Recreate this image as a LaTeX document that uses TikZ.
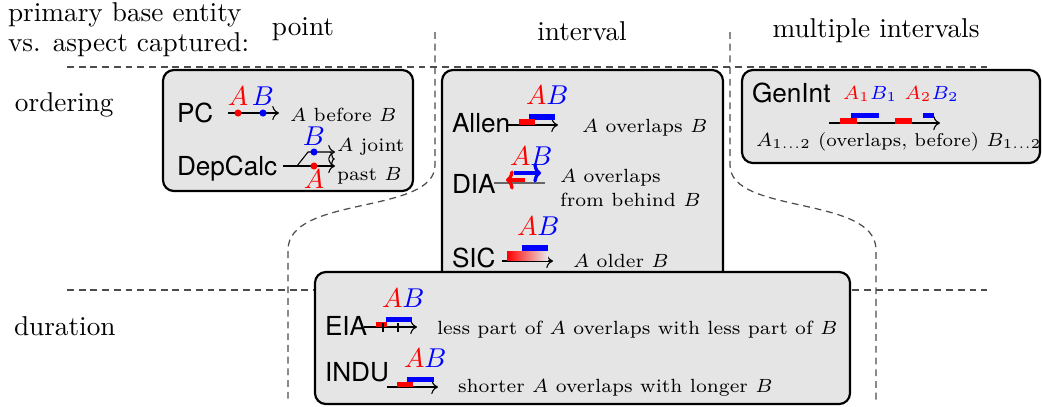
\documentclass[tikz,border=0pt]{standalone}
\usepackage{fontspec}
\newfontfamily\methodfamily{TeX Gyre Heros}
\usetikzlibrary{arrows.meta,fit,decorations.pathreplacing}
\newcommand{\methodfont}{\methodfamily\fontsize{9.6}{11}\selectfont}
\newcommand{\notefont}{\fontsize{7}{8.8}\selectfont}
\newcommand{\pairAB}{$\color{red}A\color{blue}B$}

\begin{document}
\begin{tikzpicture}[
  x=0.0129cm, y=-0.0129cm,
  every node/.style={inner sep=0pt, outer sep=0pt},
  group/.style={draw, line width=0.8pt, rounded corners=1.4mm, fill=black!10, inner sep=0pt},
  divider/.style={draw=black!70, line width=0.45pt, dash pattern=on 2.5pt off 1.8pt},
  head/.style={anchor=base},
  method/.style={font=\methodfont, anchor=base west},
  note/.style={font=\notefont, anchor=base west},
  pair/.style={anchor=base west},
  timeline/.style={->, line width=0.4pt},
  dot/.style={circle, minimum size=2.6pt},
  abar/.style={fill=red},
  bbar/.style={fill=blue},
  thickarrow/.style={line width=1.2pt, arrows={-To[length=2.8pt,width=7pt]}}
]
\useasboundingbox (0,0) rectangle (1042,406);

% dividers of the table
\draw[divider] (67,67) -- (987,67);
\draw[divider] (67,290) -- (987,290);
\draw[divider] (435,32) -- (435,165) .. controls (435,215) and (288,195) .. (288,250) -- (288,400);
\draw[divider] (730,32) -- (730,165) .. controls (730,215) and (876,195) .. (876,250) -- (876,400);

% groups
\node[group, fit={(163,70) (413,191)}] (pointbox) {};
\node[group, fit={(442,70) (723,285)}] (intervalbox) {};
\node[group, fit={(742,70) (1040,163)}] (multibox) {};
\node[group, fit={(315,272) (850,404)}] (durationbox) {};

% headings
\node[anchor=north west, align=left] (aspect) at (8,3) {primary base entity\\[-1pt]vs. aspect captured:};
\node[head] (point) at (303,35) {point};
\node[head] (interval) at (582,40) {interval};
\node[head] (multi) at (876,37) {multiple intervals};
\node[anchor=base west] (ordering) at (15,111) {ordering};
\node[anchor=base west] (duration) at (14,335) {duration};

% PC
\node[method] (pc) at (177,122) {PC};
\draw[timeline] (228,113) -- (279,113);
\node[dot, fill=red] (pcdotA) at (238,113) {};
\node[dot, fill=blue] (pcdotB) at (263,113) {};
\node[anchor=base, text=red] (pcA) at (238,105) {$A$};
\node[anchor=base, text=blue] (pcB) at (263,105) {$B$};
\node[note] (pcnote) at (290,121) {$A$ before $B$};

% DepCalc
\node[method] (depcalc) at (177,175) {DepCalc};
\draw[timeline] (283,166) -- (335,166);
\draw[timeline] (297,166) -- (308,152) -- (335,152);
\node[dot, fill=blue] (depdotB) at (314,152) {};
\node[dot, fill=red] (depdotA) at (314,166) {};
\draw[decorate, decoration={brace, amplitude=1.5pt}] (330,152) -- (330,166);
\node[anchor=base, text=blue] (depB) at (314,145) {$B$};
\node[anchor=base, text=red] (depA) at (314,188) {$A$};
\node[note] (depjoint) at (337,151) {$A$ joint};
\node[note] (deppast) at (337,180) {past $B$};

% Allen
\node[method] (allen) at (452,132) {Allen};
\draw[timeline] (508,125) -- (558,125);
\fill[bbar] (529,114) rectangle (555,120);
\fill[abar] (519,119) rectangle (535,125);
\node[pair] (allenAB) at (526,104) {\pairAB};
\node[note] (allennote) at (582,132) {$A$ overlaps $B$};

% DIA
\node[method] (dia) at (452,193) {DIA};
\draw[black!60, line width=0.6pt] (494,183) -- (545,183);
\draw[thickarrow, red] (525,180) -- (506,180);
\draw[thickarrow, blue] (514,173) -- (541,173);
\node[pair] (diaAB) at (510,165) {\pairAB};
\node[note] (diaover) at (560,182) {$A$ overlaps};
\node[note] (diabehind) at (560,206) {from behind $B$};

% SIC
\node[method] (sic) at (452,267) {SIC};
\draw[timeline] (502,261) -- (553,261);
\shade[left color=red, right color=black!8] (507,251) rectangle (548,260);
\fill[bbar] (522,245) rectangle (548,251);
\node[pair] (sicAB) at (517,235) {\pairAB};
\node[note] (sicnote) at (573,267) {$A$ older $B$};

% GenInt
\node[method] (genint) at (752,102) {GenInt};
\draw[timeline] (829,123) -- (940,123);
\fill[abar] (840,118) rectangle (857,124);
\fill[bbar] (851,113) rectangle (879,118);
\fill[abar] (895,118) rectangle (912,124);
\fill[bbar] (923,113) rectangle (934,118);
\node[pair, font=\scriptsize] (genintAB) at (843,99) {$\color{red}A_1\color{blue}B_1$ $\color{red}A_2\color{blue}B_2$};
\node[note, font=\fontsize{6.8}{8}\selectfont] (genintnote) at (756,146) {$A_{1\ldots2}$ (overlaps, before) $B_{1\ldots2}$};

% EIA
\node[method] (eia) at (325,335) {EIA};
\draw[timeline] (364,327) -- (417,327);
\fill[abar] (376,322) rectangle (387,327);
\fill[bbar] (386,317) rectangle (412,322);
\draw (383,323) -- (383,332);
\draw (398,323) -- (398,332);
\node[pair] (eiaAB) at (382,307) {\pairAB};
\node[note] (eianote) at (437,334) {less part of $A$ overlaps with less part of $B$};

% INDU
\node[method] (indu) at (325,381) {INDU};
\draw[timeline] (387,387) -- (438,387);
\fill[abar] (397,382) rectangle (413,387);
\fill[bbar] (407,376.5) rectangle (434,382);
\node[pair] (induAB) at (404,367) {\pairAB};
\node[note] (indunote) at (458,392) {shorter $A$ overlaps with longer $B$};
\end{tikzpicture}
\end{document}
